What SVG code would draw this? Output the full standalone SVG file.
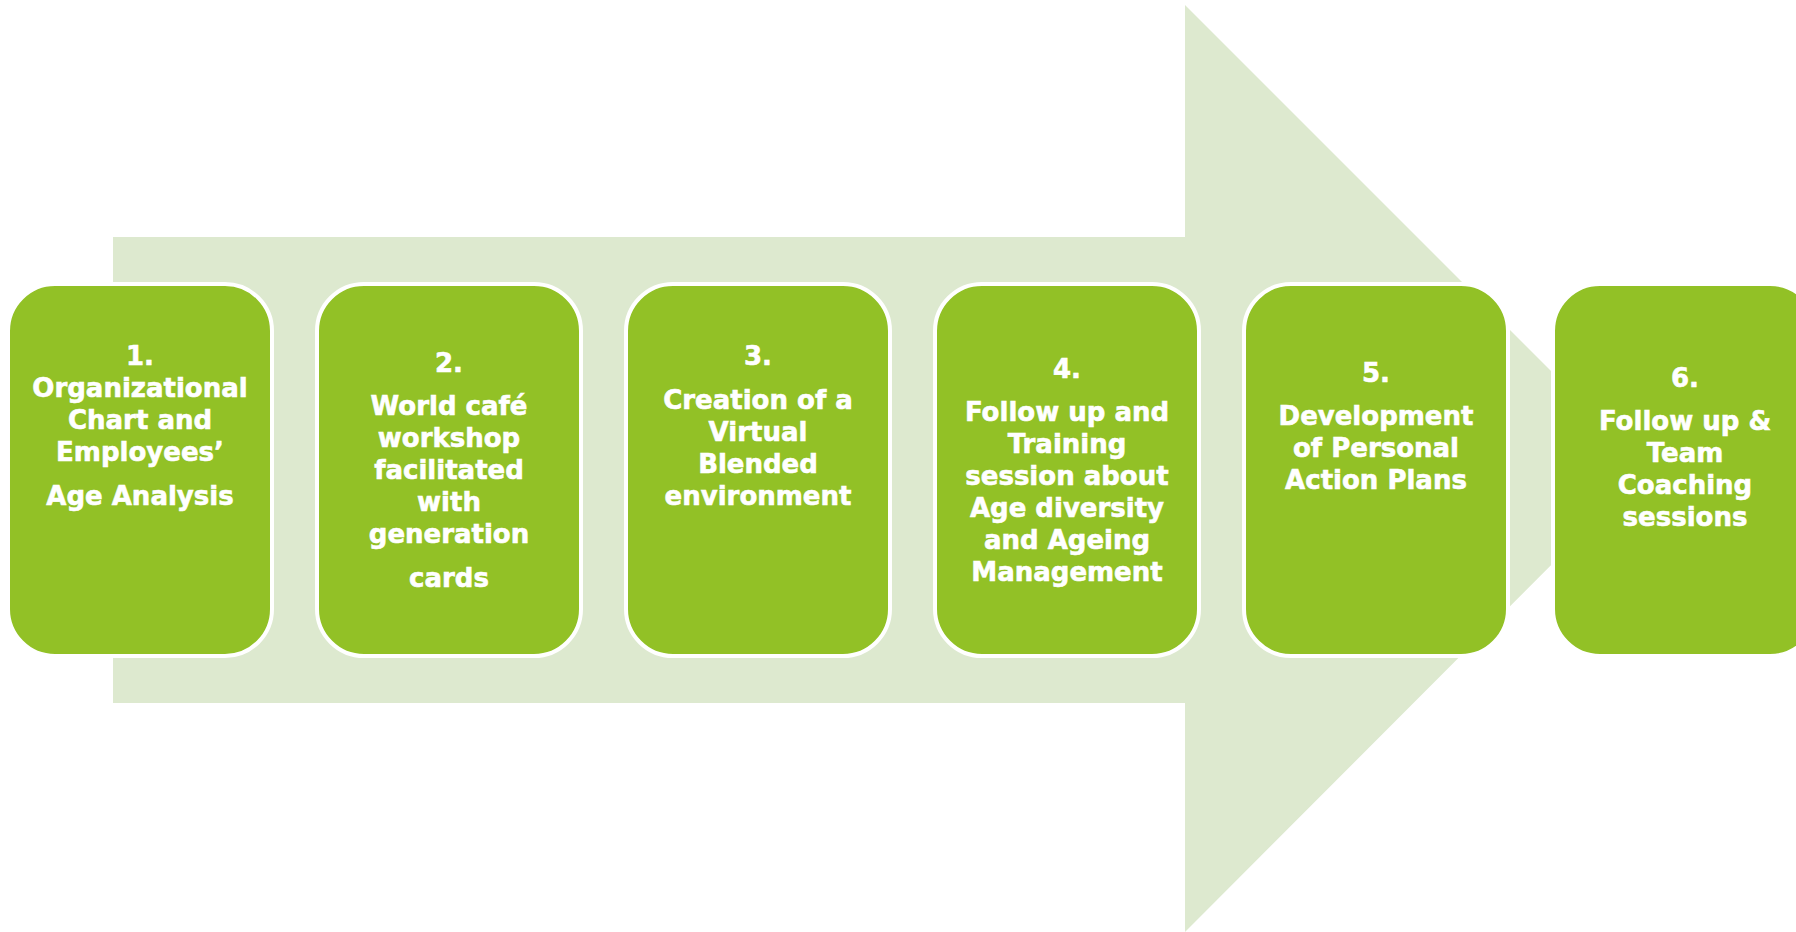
<svg xmlns="http://www.w3.org/2000/svg" width="1796" height="932" viewBox="0 0 1796 932">
  <style>
    .step { fill: #92c126; stroke: #ffffff; stroke-width: 4; }
    .label { fill: #ffffff; stroke: #ffffff; stroke-width: 0.6; font-family: "DejaVu Sans", "Liberation Sans", sans-serif; font-weight: bold; font-size: 26px; text-anchor: middle; }
  </style>
  <rect x="0" y="0" width="1796" height="932" fill="#ffffff"/>

  <!-- large background arrow -->
  <g id="connectors">
    <polygon points="113,237 1185,237 1185,5 1648,468 1185,932 1185,703 113,703" fill="#dde9cf"/>
  </g>

  <g id="step1">
    <rect class="step" x="8" y="284" width="264" height="372" rx="47" ry="47"/>
    <text class="label" x="140" y="365">1.</text>
    <text class="label" x="140" y="397">Organizational</text>
    <text class="label" x="140" y="429">Chart and</text>
    <text class="label" x="140" y="461">Employees’</text>
    <text class="label" x="140" y="505">Age Analysis</text>
  </g>

  <g id="step2">
    <rect class="step" x="317" y="284" width="264" height="372" rx="47" ry="47"/>
    <text class="label" x="449" y="372">2.</text>
    <text class="label" x="449" y="415">World café</text>
    <text class="label" x="449" y="447">workshop</text>
    <text class="label" x="449" y="479">facilitated</text>
    <text class="label" x="449" y="511">with</text>
    <text class="label" x="449" y="543">generation</text>
    <text class="label" x="449" y="587">cards</text>
  </g>

  <g id="step3">
    <rect class="step" x="626" y="284" width="264" height="372" rx="47" ry="47"/>
    <text class="label" x="758" y="365">3.</text>
    <text class="label" x="758" y="409">Creation of a</text>
    <text class="label" x="758" y="441">Virtual</text>
    <text class="label" x="758" y="473">Blended</text>
    <text class="label" x="758" y="505">environment</text>
  </g>

  <g id="step4">
    <rect class="step" x="935" y="284" width="264" height="372" rx="47" ry="47"/>
    <text class="label" x="1067" y="378">4.</text>
    <text class="label" x="1067" y="421">Follow up and</text>
    <text class="label" x="1067" y="453">Training</text>
    <text class="label" x="1067" y="485">session about</text>
    <text class="label" x="1067" y="517">Age diversity</text>
    <text class="label" x="1067" y="549">and Ageing</text>
    <text class="label" x="1067" y="581">Management</text>
  </g>

  <g id="step5">
    <rect class="step" x="1244" y="284" width="264" height="372" rx="47" ry="47"/>
    <text class="label" x="1376" y="382">5.</text>
    <text class="label" x="1376" y="425">Development</text>
    <text class="label" x="1376" y="457">of Personal</text>
    <text class="label" x="1376" y="489">Action Plans</text>
  </g>

  <g id="step6">
    <rect class="step" x="1553" y="284" width="264" height="372" rx="47" ry="47"/>
    <text class="label" x="1685" y="387">6.</text>
    <text class="label" x="1685" y="430">Follow up &amp;</text>
    <text class="label" x="1685" y="462">Team</text>
    <text class="label" x="1685" y="494">Coaching</text>
    <text class="label" x="1685" y="526">sessions</text>
  </g>
</svg>
